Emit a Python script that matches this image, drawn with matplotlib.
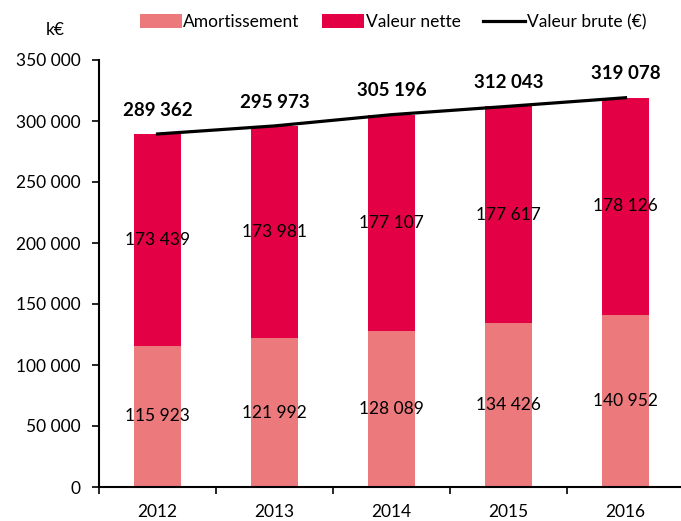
import matplotlib.pyplot as plt
import numpy as np

plt.rcParams['font.family'] = ['Lato', 'DejaVu Sans']

years = ['2012', '2013', '2014', '2015', '2016']
amortissement = [115923, 121992, 128089, 134426, 140952]
valeur_nette = [173439, 173981, 177107, 177617, 178126]
valeur_brute = [289362, 295973, 305196, 312043, 319078]

c_amort = '#EC7A7D'
c_nette = '#E30045'


def fmt(v):
    return f'{v:,}'.replace(',', ' ')


fig = plt.figure(figsize=(6.81, 5.21), dpi=100)
ax = fig.add_axes([99 / 681, 34 / 521, 585 / 681, 427 / 521])

x = np.arange(len(years))
w = 0.41
b1 = ax.bar(x, amortissement, w, color=c_amort, label='Amortissement')
b2 = ax.bar(x, valeur_nette, w, bottom=amortissement, color=c_nette, label='Valeur nette')
l1, = ax.plot(x, valeur_brute, color='black', lw=2.3, label='Valeur brute (€)')

for i in range(len(years)):
    ax.text(x[i], amortissement[i] / 2, fmt(amortissement[i]), ha='center', va='center', fontsize=12.5)
    ax.text(x[i], amortissement[i] + valeur_nette[i] / 2, fmt(valeur_nette[i]),
            ha='center', va='center', fontsize=12.5)
    ax.annotate(fmt(valeur_brute[i]), (x[i], valeur_brute[i]), xytext=(0, 11),
                textcoords='offset points', ha='center', va='bottom',
                fontsize=13.5, fontweight='bold')

ax.set_xlim(-0.5, 4.5)
ax.set_ylim(0, 350000)
ax.set_yticks(np.arange(0, 350001, 50000))
ax.set_yticklabels([fmt(v) for v in range(0, 350001, 50000)])
ax.set_xticks(x)
ax.set_xticklabels(years)
ax.set_xticks(np.arange(-0.5, 4.6, 1), minor=True)
ax.tick_params(axis='x', which='major', length=0, pad=12, labelsize=12.5)
ax.tick_params(axis='x', which='minor', length=5, width=1.2)
ax.tick_params(axis='y', length=5, width=1.2, labelsize=12.5, pad=8)
for s in ['top', 'right']:
    ax.spines[s].set_visible(False)
ax.spines['left'].set_linewidth(1.5)
ax.spines['bottom'].set_linewidth(1.5)
ax.spines['bottom'].set_bounds(-0.5, 4.5)

fig.text(55 / 681, 1 - 30 / 521, 'k€', ha='center', va='center', fontsize=12.5)
fig.legend([b1, b2, l1], ['Amortissement', 'Valeur nette', 'Valeur brute (€)'],
           loc='center', bbox_to_anchor=(393 / 681, 1 - 22 / 521), ncol=3, frameon=False,
           fontsize=12.5, handlelength=2.4, handletextpad=0.1, columnspacing=1.3,
           handleheight=0.9)

fig.savefig('out.png', dpi=100)
